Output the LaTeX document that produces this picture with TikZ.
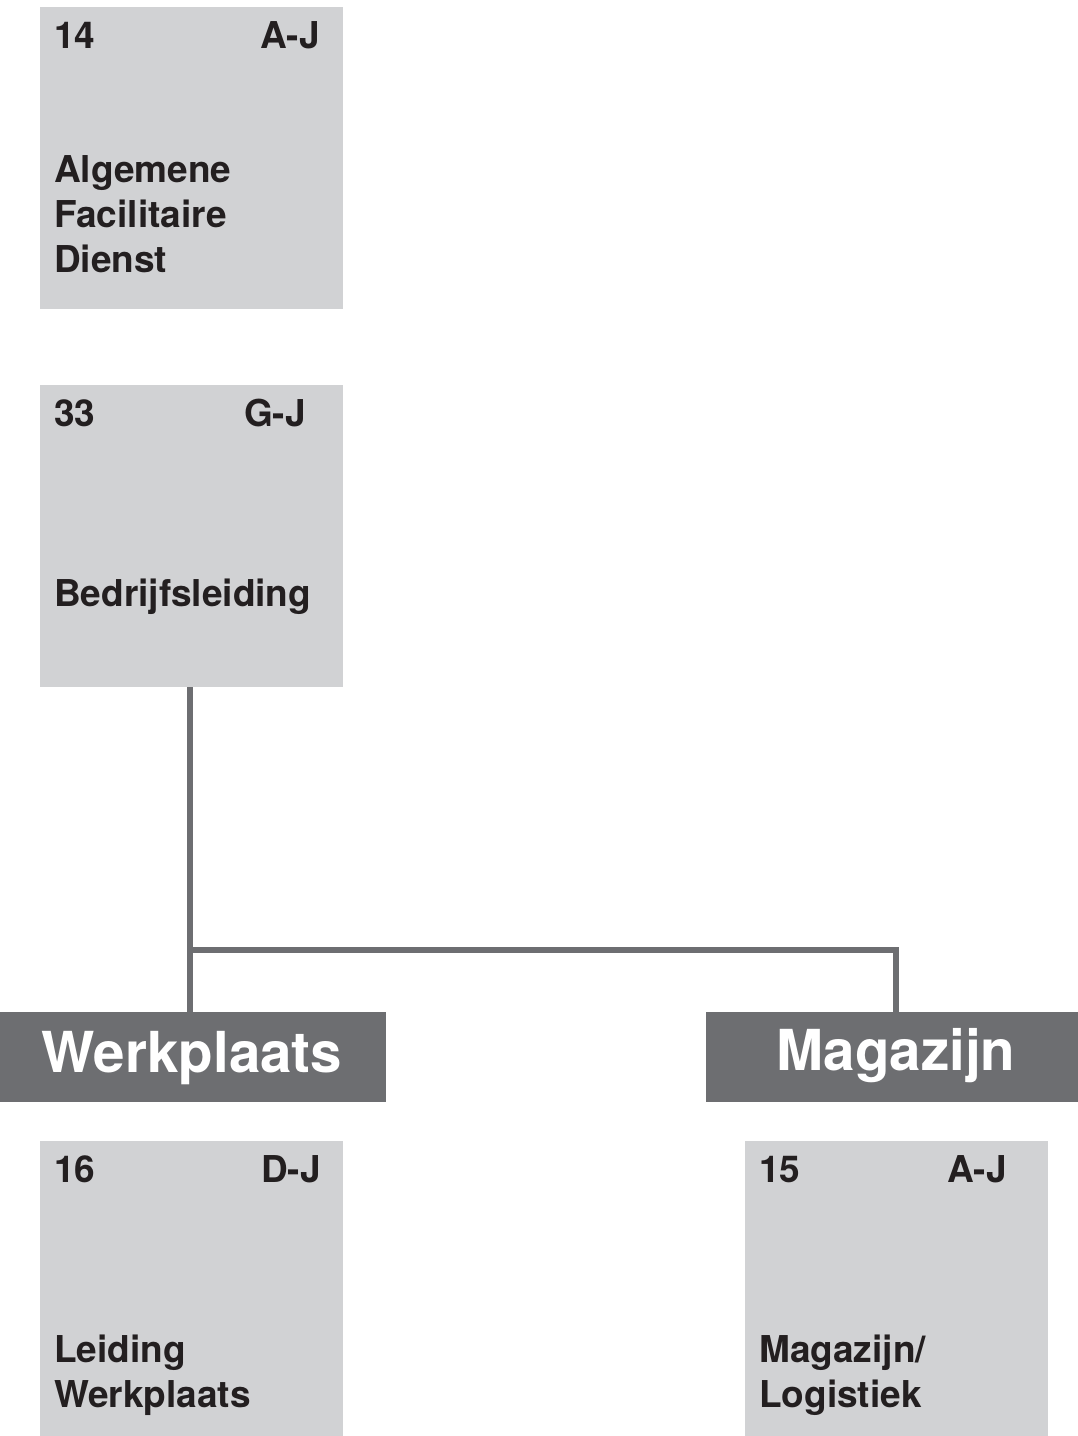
\documentclass[tikz,border=0pt]{standalone}
\usepackage{fontspec}
\setmainfont{TeX Gyre Heros}
\definecolor{lightbox}{HTML}{D1D2D4}
\definecolor{darkbox}{HTML}{6D6E71}
\definecolor{ink}{HTML}{231F20}
\begin{document}
\begin{tikzpicture}[x=1pt,y=-1pt,
  card/.style={fill=lightbox,draw=none,anchor=north west,inner sep=0pt,minimum width=303pt,minimum height=302pt},
  band/.style={fill=darkbox,draw=none,anchor=north west,inner sep=0pt,minimum height=90pt},
  small/.style={inner sep=0pt,text=ink,font=\fontsize{37}{45}\selectfont\bfseries},
  big/.style={inner sep=0pt,text=white,font=\fontsize{56.5}{60}\selectfont\bfseries},
  conn/.style={draw=darkbox,line width=6pt}]
\useasboundingbox (0,0) rectangle (1078,1436);
% boxes
\node[card] (b1) at (40,7) {};
\node[card,minimum height=302pt] (b2) at (40,385) {};
\node[card,minimum height=295pt] (b3) at (40,1141) {};
\node[card,minimum height=295pt] (b4) at (745,1141) {};
\node[band,minimum width=386pt] (wp) at (0,1012) {};
\node[band,minimum width=372pt] (mg) at (706,1012) {};
% connectors
\coordinate (j) at (896,949.5);
\draw[conn] ([xshift=-1.5pt]b2.south) -- ([xshift=-1.5pt]b2.south |- wp.north);
\draw[conn] ([xshift=-1.5pt]b2.south |- j) -- (j) -- (j |- mg.north);
% texts box 1
\node[small,anchor=base west] (t1a) at (54,48) {14};
\node[small,anchor=base east] (t1b) at (320,48) {A-J};
\node[small,anchor=base west] (t1c) at (54,182) {Algemene};
\node[small,anchor=base west] (t1d) at (54,227) {Facilitaire};
\node[small,anchor=base west] (t1e) at (54,272) {Dienst};
% box 2
\node[small,anchor=base west] (t2a) at (54,426) {33};
\node[small,anchor=base east] (t2b) at (306,426) {G-J};
\node[small,anchor=base west] (t2c) at (54,606) {Bedrijfsleiding};
% band labels
\node[big,anchor=base] (wpl) at (192,1072) {Werkplaats};
\node[big,anchor=base] (mgl) at (896,1070) {Magazijn};
% box 3
\node[small,anchor=base west] (t3a) at (54,1182) {16};
\node[small,anchor=base east] (t3b) at (321,1182) {D-J};
\node[small,anchor=base west] (t3c) at (54,1362) {Leiding};
\node[small,anchor=base west] (t3d) at (54,1407) {Werkplaats};
% box 4
\node[small,anchor=base west] (t4a) at (759,1182) {15};
\node[small,anchor=base east] (t4b) at (1007,1182) {A-J};
\node[small,anchor=base west] (t4c) at (759,1362) {Magazijn/};
\node[small,anchor=base west] (t4d) at (759,1407) {Logistiek};
\end{tikzpicture}
\end{document}
